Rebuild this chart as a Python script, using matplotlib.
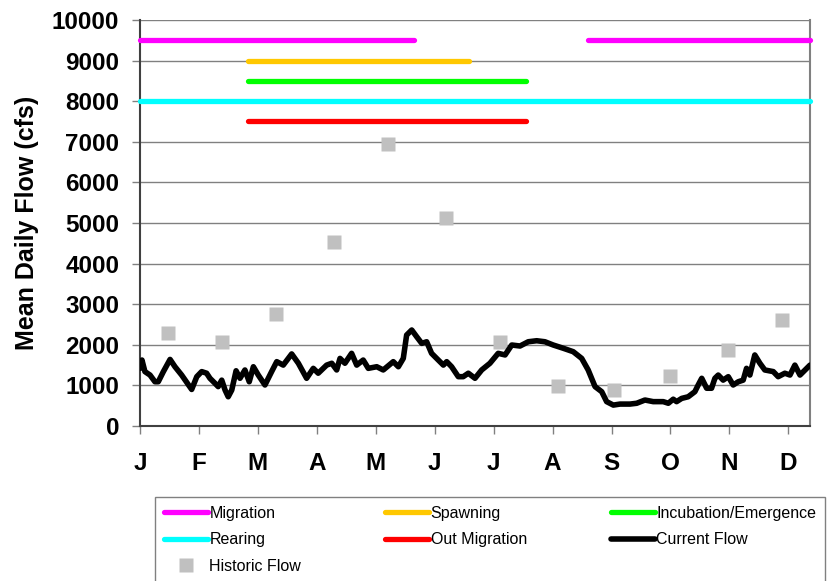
import numpy as np
import matplotlib
matplotlib.use("Agg")
import matplotlib.pyplot as plt

plt.rcParams['font.family'] = ['Liberation Sans', 'DejaVu Sans']

# month labels, one tick every 30 days
months = ['J', 'F', 'M', 'A', 'M', 'J', 'J', 'A', 'S', 'O', 'N', 'D']
month_days = [0, 30, 60, 90, 120, 150, 180, 210, 240, 270, 300, 330]
x_end = 341

# current daily flow (day, cfs)
flow_day = [0, 1, 2.5, 5.1, 7.6, 9.3, 11.9, 15.3, 17.8, 21.2, 26.3, 28.9, 31.4,
            33.9, 35.6, 38.2, 39.8, 41.6, 43.3, 44.9, 46.7, 48.9, 50.9, 53.4,
            55.6, 57.7, 60.2, 63.6, 67.0, 69.6, 72.9, 77.2, 80.6, 84.8, 88.2,
            90.7, 95.0, 97.6, 100.1, 101.8, 104.3, 107.7, 110.3, 113.6, 116.2,
            120.5, 123.8, 128.9, 131.5, 134.0, 135.7, 138.3, 140.8, 143.4,
            145.9, 148.4, 151.8, 154.4, 156.1, 158.6, 162.0, 164.5, 167.1,
            170.5, 173.9, 178.1, 182.3, 185.8, 189.2, 193.4, 197.6, 201.9,
            206.1, 210.3, 215.4, 220.5, 224.8, 228.1, 231.6, 235.0, 237.5,
            240.9, 244.3, 249.4, 252.8, 257.0, 261.2, 266.3, 268.9, 271.4,
            273.1, 275.7, 279.0, 282.4, 284.1, 285.9, 288.4, 290.9, 292.6,
            294.3, 296.8, 299.4, 301.9, 304.5, 307.0, 308.7, 310.4, 312.9,
            315.5, 318.0, 322.3, 324.8, 328.2, 330.8, 333.3, 335.9, 338.5, 341]
flow_cfs = [1420, 1625, 1340, 1255, 1090, 1090, 1340, 1640, 1460, 1255, 900,
            1215, 1340, 1300, 1175, 1050, 970, 1130, 885, 720, 885, 1360, 1175,
            1380, 1090, 1460, 1255, 1010, 1340, 1585, 1500, 1775, 1545, 1175,
            1420, 1300, 1500, 1545, 1380, 1665, 1545, 1790, 1500, 1625, 1420,
            1460, 1380, 1585, 1460, 1665, 2240, 2365, 2200, 2035, 2075, 1790,
            1625, 1500, 1585, 1460, 1215, 1215, 1300, 1175, 1380, 1545, 1790,
            1750, 1995, 1970, 2075, 2100, 2075, 1995, 1915, 1830, 1665, 1380,
            970, 845, 600, 515, 540, 540, 560, 640, 600, 600, 560, 660, 600,
            680, 720, 845, 1010, 1175, 930, 930, 1175, 1255, 1130, 1215, 1010,
            1090, 1130, 1420, 1255, 1750, 1545, 1380, 1340, 1215, 1300, 1255,
            1500, 1255, 1380, 1500]

# historic monthly flow
hist_day = [14.4, 41.6, 69.2, 98.7, 126.2, 155.7, 183.2, 212.6, 241.2, 269.7, 299.1, 326.6]
hist_cfs = [2280, 2075, 2760, 4530, 6945, 5120, 2075, 985, 885, 1230, 1870, 2610]

# life stage periods: (name, level, [(start, end), ...], colour)
stages = [
    ('Migration', 9500, [(0, 139.7), (228, 341)], '#ff00ff'),
    ('Spawning', 9000, [(55, 167.7)], '#ffc800'),
    ('Incubation/Emergence', 8500, [(55, 196.7)], '#00ff00'),
    ('Rearing', 8000, [(0, 341)], '#00ffff'),
    ('Out Migration', 7500, [(55, 196.7)], '#ff0000'),
]

fig = plt.figure(figsize=(8.27, 5.81), dpi=100)
ax = fig.add_axes([140/827, 1 - 426/581, 670/827, 406/581])

handles = {}
for name, level, spans, col in stages:
    for s, e in spans:
        h, = ax.plot([s, e], [level, level], color=col, lw=3.8,
                     solid_capstyle='round', zorder=3, clip_on=False)
    handles[name] = h

hs, = ax.plot(hist_day, hist_cfs, 's', color='#c0c0c0', ms=9.5, mec='none', zorder=2)
handles['Historic Flow'] = hs
hc, = ax.plot(flow_day, flow_cfs, color='black', lw=4, solid_joinstyle='round',
              solid_capstyle='round', zorder=4)
handles['Current Flow'] = hc

ax.set_xlim(0, x_end)
ax.set_ylim(0, 10000)
ax.set_yticks(np.arange(0, 10001, 1000))
ax.set_xticks(month_days)
ax.set_xticklabels(months)
ax.grid(axis='y', color='#808080', lw=1)
ax.set_axisbelow(True)
ax.spines['top'].set_visible(False)
ax.spines['left'].set_color('#404040')
ax.spines['bottom'].set_color('#404040')
ax.spines['right'].set_color('#808080')
ax.spines['left'].set_linewidth(1.5)
ax.spines['bottom'].set_linewidth(1.5)
ax.spines['right'].set_linewidth(1.5)
ax.tick_params(axis='both', length=6, color='#808080', width=1)
ax.tick_params(axis='x', pad=13)
ax.tick_params(axis='y', pad=9)
for lab in ax.get_xticklabels() + ax.get_yticklabels():
    lab.set_fontsize(17.5)
    lab.set_fontweight('bold')
ax.set_ylabel('Mean Daily Flow (cfs)', fontsize=18, fontweight='bold', labelpad=9)

order = ['Migration', 'Rearing', 'Historic Flow', 'Spawning', 'Out Migration',
         'Incubation/Emergence', 'Current Flow']
leg = fig.legend([handles[k] for k in order], order, ncol=3, mode='expand',
                 loc='upper left', bbox_to_anchor=(155/827, 1 - 497/581, 670/827, 0.0),
                 fontsize=11.5, handlelength=2.75, handletextpad=0.1, borderpad=0.55,
                 labelspacing=0.72, fancybox=False, edgecolor='#808080', framealpha=1,
                 borderaxespad=0)
leg.get_frame().set_linewidth(1)

fig.savefig('out.png', dpi=100)
